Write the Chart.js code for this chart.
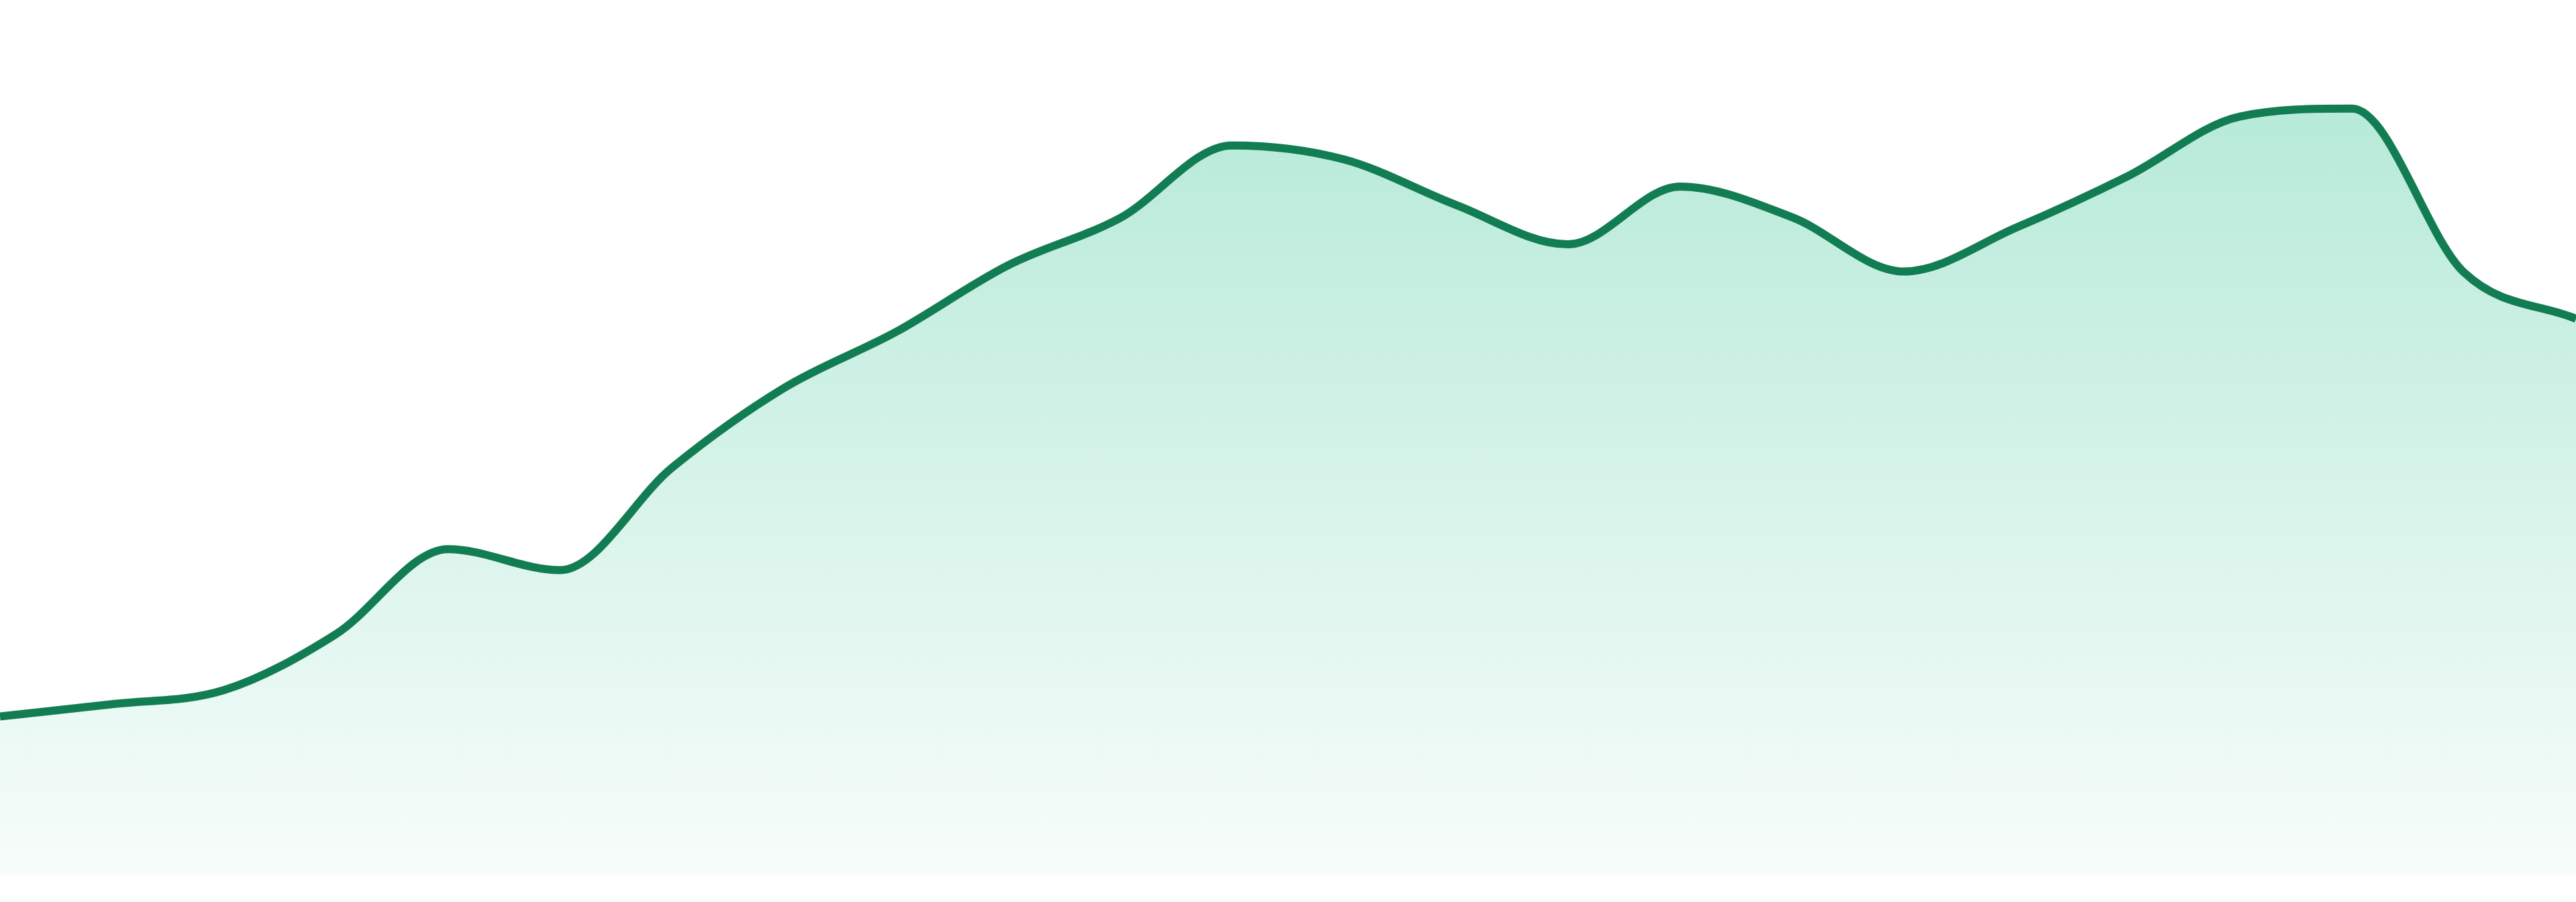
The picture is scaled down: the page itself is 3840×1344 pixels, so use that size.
<!DOCTYPE html>
<html>
<head>
<meta charset="utf-8">
<style>
  html, body { margin: 0; padding: 0; background: #ffffff; }
  #wrap { width: 3840px; height: 1344px; }
</style>
<script src="https://cdn.jsdelivr.net/npm/chart.js@4.4.1/dist/chart.umd.min.js"></script>
</head>
<body>
<div id="wrap"><canvas id="areaChart" width="3840" height="1344"></canvas></div>
<script>
// datos del grafico
const etiquetas = ['1', '2', '3', '4', '5', '6', '7', '8', '9', '10', '11', '12',
  '13', '14', '15', '16', '17', '18', '19', '20', '21', '22', '23', '24'];
const valores = [18.2, 19.6, 21.2, 27.6, 37.3, 34.9, 46.6, 55.7, 62.1, 69.7, 75.1, 83.4,
  81.8, 76.6, 72.1, 78.7, 75.2, 69.0, 74.0, 79.9, 86.7, 87.6, 68.9, 63.6];
const ejeMin = 0;
const ejeMax = 100;

document.addEventListener('DOMContentLoaded', function () {
  function rellenoGradiente(context) {
    const chart = context.chart;
    const area = chart.chartArea;
    if (!area) return 'rgba(16, 185, 129, 0.2)';
    const top = chart.scales.y.getPixelForValue(Math.max(...valores));
    const g = chart.ctx.createLinearGradient(0, top, 0, area.bottom);
    g.addColorStop(0, 'rgba(16, 185, 129, 0.30)');
    g.addColorStop(1, 'rgba(16, 185, 129, 0.03)');
    return g;
  }

  const ctx = document.getElementById('areaChart').getContext('2d');
  new Chart(ctx, {
    type: 'line',
    data: {
      labels: etiquetas,
      datasets: [{
        data: valores,
        borderColor: '#127c53',
        borderWidth: 12,
        backgroundColor: rellenoGradiente,
        fill: 'start',
        cubicInterpolationMode: 'monotone',
        pointRadius: 0,
        pointHoverRadius: 0
      }]
    },
    options: {
      responsive: false,
      animation: false,
      devicePixelRatio: 1,
      layout: { padding: { top: 0, right: 0, bottom: 39, left: 0 } },
      plugins: { legend: { display: false }, tooltip: { enabled: false } },
      scales: {
        x: { display: false, offset: false },
        y: { display: false, min: ejeMin, max: ejeMax }
      }
    }
  });
});
</script>
</body>
</html>
